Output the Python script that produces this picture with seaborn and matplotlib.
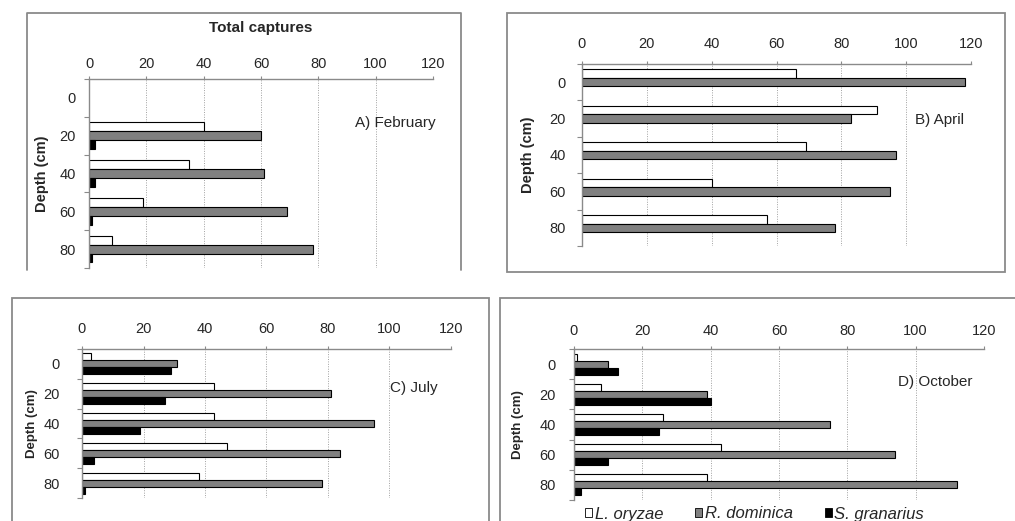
import numpy as np
import pandas as pd
import matplotlib
matplotlib.use("Agg")
import matplotlib.pyplot as plt
from matplotlib.patches import Patch, Rectangle
from matplotlib.lines import Line2D
import seaborn as sns

depths = ['0', '20', '40', '60', '80']
species = ['L. oryzae', 'R. dominica', 'S. granarius']
colores = ['white', '#808080', 'black']

feb_lo = [0, 40, 35, 19, 8]
feb_rd = [0, 60, 61, 69, 78]
feb_sg = [0, 2, 2, 1, 1]

apr_lo = [66, 91, 69, 40, 57]
apr_rd = [118, 83, 97, 95, 78]
apr_sg = [0, 0, 0, 0, 0]

jul_lo = [3, 43, 43, 47, 38]
jul_rd = [31, 81, 95, 84, 78]
jul_sg = [29, 27, 19, 4, 1]

oct_lo = [1, 8, 26, 43, 39]
oct_rd = [10, 39, 75, 94, 112]
oct_sg = [13, 40, 25, 10, 2]

W, H = 1015, 521

sns.set_style('white')
plt.rcParams['font.family'] = ['Liberation Sans', 'DejaVu Sans']


def tabla(lo, rd, sg):
    filas = []
    for vals, sp in zip([lo, rd, sg], species):
        for d, v in zip(depths, vals):
            filas.append({'depth': d, 'species': sp, 'captures': v})
    return pd.DataFrame(filas)


def caja(x0, x1, y0, y1):
    # caja en pixeles -> fraccion de figura
    return [x0 / W, 1 - y1 / H, (x1 - x0) / W, (y1 - y0) / H]


fig = plt.figure(figsize=(W / 100, H / 100), dpi=100)
fig.patch.set_facecolor('white')

# marcos grises de cada panel
gris = '#8a8a8a'
fig.add_artist(Line2D([27 / W, 27 / W, 461 / W, 461 / W],
                      [1 - 270 / H, 1 - 13 / H, 1 - 13 / H, 1 - 270 / H],
                      transform=fig.transFigure, color=gris, lw=1.3))
for (x0, y0, x1, y1) in [(507, 13, 1005, 272), (12, 298, 489, 530), (500, 298, 1030, 530)]:
    fig.add_artist(Rectangle((x0 / W, 1 - y1 / H), (x1 - x0) / W, (y1 - y0) / H,
                             transform=fig.transFigure, fill=False, ec=gris, lw=1.3))

paneles = [
    (tabla(feb_lo, feb_rd, feb_sg), caja(89, 433, 79, 268), 'A) February', (355, 123), 9.5, 3, 10.5, 49),
    (tabla(apr_lo, apr_rd, apr_sg), caja(582, 971, 64, 246), 'B) April', (915, 120), 11.5, 7, 10.5, 535),
    (tabla(jul_lo, jul_rd, jul_sg), caja(82, 451, 349, 498), 'C) July', (390, 388), 16, 7, 9.5, 38),
    (tabla(oct_lo, oct_rd, oct_sg), caja(574, 984, 349, 500), 'D) October', (898, 382), 13, 5.5, 9.5, 524),
]

for i, (df, pos, titulo, (tx, ty), ypad, xpad, lab_fs, lab_x) in enumerate(paneles):
    ax = fig.add_axes(pos)
    sns.barplot(data=df, x='captures', y='depth', hue='species', orient='h',
                hue_order=species, order=depths, palette=colores, width=0.7,
                edgecolor='black', linewidth=0.8, legend=False, ax=ax)
    for p in ax.patches:
        if p.get_width() == 0:
            p.set_visible(False)
    ax.set_xlim(0, 120)
    ax.set_ylim(4.5, -0.5)
    ax.xaxis.tick_top()
    ax.xaxis.set_label_position('top')
    ax.set_xticks(range(0, 121, 20))
    ax.tick_params(axis='x', length=2.5, color=gris, pad=xpad, labelsize=10.5)
    ax.set_yticks(np.arange(-0.5, 5, 1))
    ax.set_yticklabels([])
    ax.set_yticks(range(5), minor=True)
    ax.set_yticklabels(depths, minor=True)
    ax.tick_params(axis='y', which='major', length=3.5, color=gris, left=True)
    ax.tick_params(axis='y', which='minor', length=0, pad=ypad, labelsize=10.5)
    for s in ['right', 'bottom']:
        ax.spines[s].set_visible(False)
    for s in ['top', 'left']:
        ax.spines[s].set_color(gris)
        ax.spines[s].set_linewidth(1)
    ax.grid(axis='x', color='#a0a0a0', linestyle=(0, (1, 1.5)), lw=0.7)
    ax.grid(axis='y', visible=False)
    ax.set_axisbelow(True)
    ax.set_facecolor('none')
    if i == 0:
        ax.set_xlabel('Total captures', fontsize=11, fontweight='bold', labelpad=18)
    else:
        ax.set_xlabel('')
    ax.set_ylabel('Depth (cm)', fontsize=lab_fs, fontweight='bold')
    ax.yaxis.set_label_coords((lab_x - pos[0] * W) / (pos[2] * W), 0.5)
    fig.text(tx / W, 1 - ty / H, titulo, fontsize=11, va='center', ha='left')

manejadores = [Patch(facecolor=c, edgecolor='black', lw=0.6, label=s)
               for c, s in zip(colores, species)]
fig.legend(handles=manejadores, loc='center left', bbox_to_anchor=(578 / W, 1 - 514 / H),
           ncol=3, frameon=False, handlelength=0.45, handleheight=0.45,
           handletextpad=0.15, columnspacing=1.9, borderaxespad=0,
           prop={'style': 'italic', 'size': 12})

fig.savefig('out.png', dpi=100, facecolor='white')
